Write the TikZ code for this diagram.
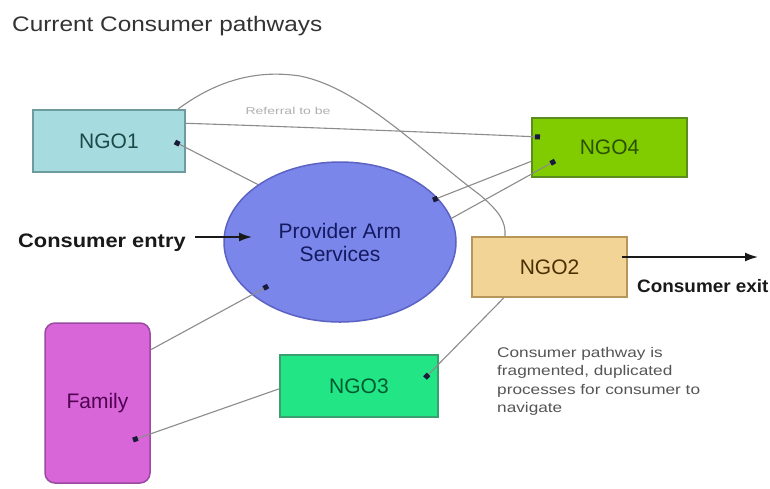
\documentclass[tikz,border=0pt]{standalone}
\usepackage{fontspec}
\setmainfont{Liberation Sans}
\usetikzlibrary{shapes.geometric,arrows.meta,calc}
\definecolor{aF}{HTML}{A6DCE0}\definecolor{aD}{HTML}{6E9C9E}\definecolor{aT}{HTML}{1C4848}
\definecolor{bF}{HTML}{80CC00}\definecolor{bD}{HTML}{5A8C1E}\definecolor{bT}{HTML}{2A5000}
\definecolor{eF}{HTML}{7B86EA}\definecolor{eD}{HTML}{5B62C4}\definecolor{eT}{HTML}{141A60}
\definecolor{cF}{HTML}{F2D496}\definecolor{cD}{HTML}{B8955A}\definecolor{cT}{HTML}{4A3000}
\definecolor{dF}{HTML}{22E585}\definecolor{dD}{HTML}{3AA070}\definecolor{dT}{HTML}{005A30}
\definecolor{fF}{HTML}{D866D8}\definecolor{fD}{HTML}{9A4AA0}\definecolor{fT}{HTML}{500050}
\definecolor{linec}{HTML}{8C8C8C}\definecolor{dotc}{HTML}{1A1A3A}
\definecolor{annc}{HTML}{555555}\definecolor{refc}{HTML}{B0B0B0}\definecolor{titc}{HTML}{333333}
\begin{document}
\begin{tikzpicture}[x=1pt,y=1pt,
  box/.style={draw, line width=1.5pt, inner sep=0pt, font=\fontsize{21}{25}\selectfont},
  conn/.style={draw=linec, line width=1.1pt},
  dotend/.style={-{Square[length=5pt,width=5pt,color=dotc]}},
  bigarrow/.style={draw=black!90, line width=1.6pt, -{Latex[length=13pt,width=9pt]}},
  lbl/.style={anchor=base west, inner sep=0pt}
 ]
\useasboundingbox[fill=white] (0,0) rectangle (770,-488);

% title
\node[lbl, text=titc, font=\fontsize{21}{25}\selectfont] (title) at (12,-31) {\scalebox{1.16}[1]{Current Consumer pathways}};

% nodes
\node[box, fill=aF, draw=aD, text=aT, minimum width=152pt, minimum height=62pt] (ngo1) at (109,-141) {NGO1};
\node[box, fill=bF, draw=bD, text=bT, minimum width=155pt, minimum height=59pt] (ngo4) at (609.5,-147.5) {NGO4};
\node[ellipse, draw=eD, fill=eF, line width=1.5pt, minimum width=232pt, minimum height=160pt, inner sep=0pt,
      text=eT, align=center, font=\fontsize{21}{23}\selectfont] (ell) at (340,-242) {Provider Arm\\Services};
\node[box, fill=cF, draw=cD, text=cT, minimum width=155pt, minimum height=60pt] (ngo2) at (549.5,-267) {NGO2};
\node[box, fill=dF, draw=dD, text=dT, minimum width=158pt, minimum height=62pt] (ngo3) at (359,-386) {NGO3};
\node[box, fill=fF, draw=fD, text=fT, rounded corners=10pt, minimum width=105pt, minimum height=160pt] (family) at (97.5,-403) {Family};

% labels
\node[lbl, font=\fontsize{19.5}{23}\selectfont\bfseries, text=black!90] (entry) at (18,-247) {\scalebox{1.12}[1]{Consumer entry}};
\node[lbl, font=\fontsize{18}{22}\selectfont\bfseries, text=black!90] (exit) at (637,-292) {\scalebox{1.05}[1]{Consumer exit}};
\node[font=\fontsize{10}{12}\selectfont, text=refc, inner sep=0pt] (ref) at (288,-111) {\scalebox{1.4}[1]{Referral to be}};
\node[lbl, font=\fontsize{14}{18.5}\selectfont, text=annc] (note) at (497,-357)
  {\scalebox{1.23}[1]{\begin{tabular}[t]{@{}l@{}}Consumer pathway is\\fragmented, duplicated\\processes for consumer to\\navigate\end{tabular}}};

% end points
\coordinate (d4a) at (540,-137);
\coordinate (d1) at (175,-142);
\coordinate (dEa) at (433,-200);
\coordinate (d4b) at (555,-161);
\coordinate (dEb) at (268,-286);
\coordinate (dF) at (133,-440);
\coordinate (d3) at (425,-378);
\coordinate (en0) at (195,-237);
\coordinate (en1) at (252,-237);
\coordinate (ex0) at (622,-257);
\coordinate (ex1) at (758,-257);

% connectors
\draw[conn, dotend] (ngo1.13) .. controls (300,-127) and (450,-133) .. (d4a);
\draw[conn, dotend] (ell.145) -- (d1);
\draw[conn] ($(ngo1.north east)+(-8,0)$) .. controls (220,-78) and (260,-70) .. (300,-76)
   .. controls (360,-88) and (420,-150) .. (480,-195)
   .. controls (500,-212) and (506,-222) .. (ngo2.north -| 505,0);
\draw[conn, dotend] (ngo4.190) -- (dEa);
\draw[conn, dotend] (ell.12) -- (d4b);
\draw[conn, dotend] (family.45) -- (dEb);
\draw[conn, dotend] (ngo3.182) -- (dF);
\draw[conn, dotend] (ngo2.214) -- (d3);
\draw[bigarrow] (en0) -- (en1);
\draw[bigarrow] (ex0) -- (ex1);
\end{tikzpicture}
\end{document}
